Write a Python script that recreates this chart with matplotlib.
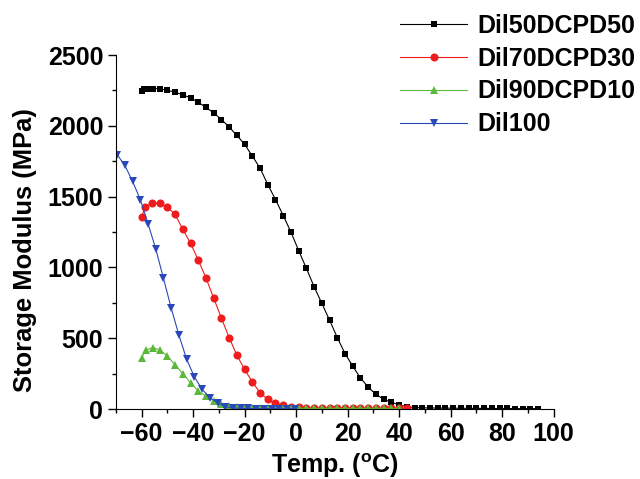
import matplotlib
matplotlib.use("Agg")
import matplotlib.pyplot as plt
from matplotlib.ticker import MultipleLocator

plt.rcParams['font.family'] = ['Liberation Sans', 'DejaVu Sans']
plt.rcParams['font.weight'] = 'bold'
plt.rcParams['mathtext.fontset'] = 'custom'
plt.rcParams['mathtext.rm'] = 'Liberation Sans:bold'
plt.rcParams['mathtext.bf'] = 'Liberation Sans:bold'

# dados
temp_50 = [-60, -59, -57.5, -55.5, -53, -50, -47, -44, -41, -38, -35, -32, -29, -26,
           -23, -20, -17, -14, -11, -8, -5, -2, 1, 4, 7, 10, 13, 16, 19, 22, 25, 28,
           31, 34, 37, 40, 43, 46, 49, 52, 55, 58, 61, 64, 67, 70, 73, 76, 79, 82,
           85, 88, 91, 94]
mod_50 = [2245, 2259, 2264, 2264, 2262, 2252, 2238, 2219, 2198, 2167, 2130, 2092,
          2045, 1992, 1933, 1870, 1787, 1702, 1586, 1480, 1367, 1250, 1119, 994, 864,
          746, 628, 505, 392, 303, 220, 155, 104, 69, 48, 30, 16, 11, 9, 8, 7, 7, 6,
          6, 5, 5, 5, 4, 4, 4, 3, 3, 3, 3]

temp_70 = [-60, -58.5, -56, -53, -50, -47, -44, -41, -38, -35, -32, -29, -26, -23,
           -20, -17, -14, -11, -8, -5, -2, 1, 4, 7, 10, 13, 16, 19, 22, 25, 28, 31,
           34, 37, 40, 43]
mod_70 = [1360, 1428, 1455, 1452, 1427, 1375, 1270, 1171, 1053, 926, 784, 642, 505,
          380, 281, 191, 115, 69, 40, 26, 17, 13, 11, 10, 10, 9, 9, 9, 8, 8, 8, 8,
          7, 7, 7, 7]

temp_90 = [-60, -58.3, -55.7, -53, -50, -47, -44, -41, -38, -35, -32, -29, -26, -23,
           -20, -17, -14, -11, -8, -5, -2, 1, 4, 7, 10, 13, 16, 19, 22, 25, 28, 31,
           34, 37, 40]
mod_90 = [363, 416, 434, 418, 375, 312, 250, 186, 127, 92, 57, 33, 21, 14, 10, 8, 7,
          6, 6, 5, 5, 5, 5, 5, 5, 5, 5, 5, 5, 5, 5, 5, 5, 5, 5]

temp_100 = [-69.5, -66.5, -63.5, -60.5, -57.5, -54.5, -51.5, -48.5, -45.5, -42.5,
            -39.5, -36.5, -33.5, -30.5, -27.5, -24.5, -21.5, -18.5, -15.5, -12.5,
            -9.5, -6.5, -3.5, -0.5]
mod_100 = [1797, 1721, 1608, 1480, 1310, 1131, 923, 713, 522, 352, 227, 140, 80, 45,
           17, 8, 5, 4, 3, 3, 3, 3, 3, 3]

nomes = ['Dil50DCPD50', 'Dil70DCPD30', 'Dil90DCPD10', 'Dil100']
cores = ['#000000', '#ee1c1c', '#5cb83a', '#2a48b8']
marcas = ['s', 'o', '^', 'v']
tamanhos = [4.6, 5.8, 6.2, 6.2]

fig = plt.figure(figsize=(6.4, 4.79), dpi=100)
ax = fig.add_axes([0.181, 0.146, 0.684, 0.739])

series = [(temp_50, mod_50), (temp_70, mod_70), (temp_90, mod_90), (temp_100, mod_100)]
for (t, m), nome, cor, mk, ms in zip(series, nomes, cores, marcas, tamanhos):
    ax.plot(t, m, color=cor, marker=mk, markersize=ms, markeredgewidth=0,
            linewidth=0.8, label=nome)

ax.set_xlim(-70, 100)
ax.set_ylim(0, 2500)
ax.xaxis.set_major_locator(MultipleLocator(20))
ax.xaxis.set_minor_locator(MultipleLocator(10))
ax.yaxis.set_major_locator(MultipleLocator(500))
ax.yaxis.set_minor_locator(MultipleLocator(250))

ax.spines['top'].set_visible(False)
ax.spines['right'].set_visible(False)
ax.tick_params(which='major', direction='out', length=6, width=1, labelsize=18, pad=3)
ax.tick_params(which='minor', direction='out', length=3, width=1)

ax.set_xlabel(r'Temp. ($^{\mathrm{o}}$C)', fontsize=18, fontweight='bold')
ax.set_ylabel('Storage Modulus (MPa)', fontsize=18.4, fontweight='bold')
ax.xaxis.set_label_coords(0.5, -0.121)
ax.yaxis.set_label_coords(-0.180, 0.449)

leg = ax.legend(loc='upper left', bbox_to_anchor=(400 / 640, 1 - 14 / 479),
                bbox_transform=fig.transFigure, frameon=False, fontsize=18,
                borderpad=0, borderaxespad=0, handlelength=2.68,
                handletextpad=0.4, labelspacing=0.35)

fig.savefig('out.png', dpi=100)
